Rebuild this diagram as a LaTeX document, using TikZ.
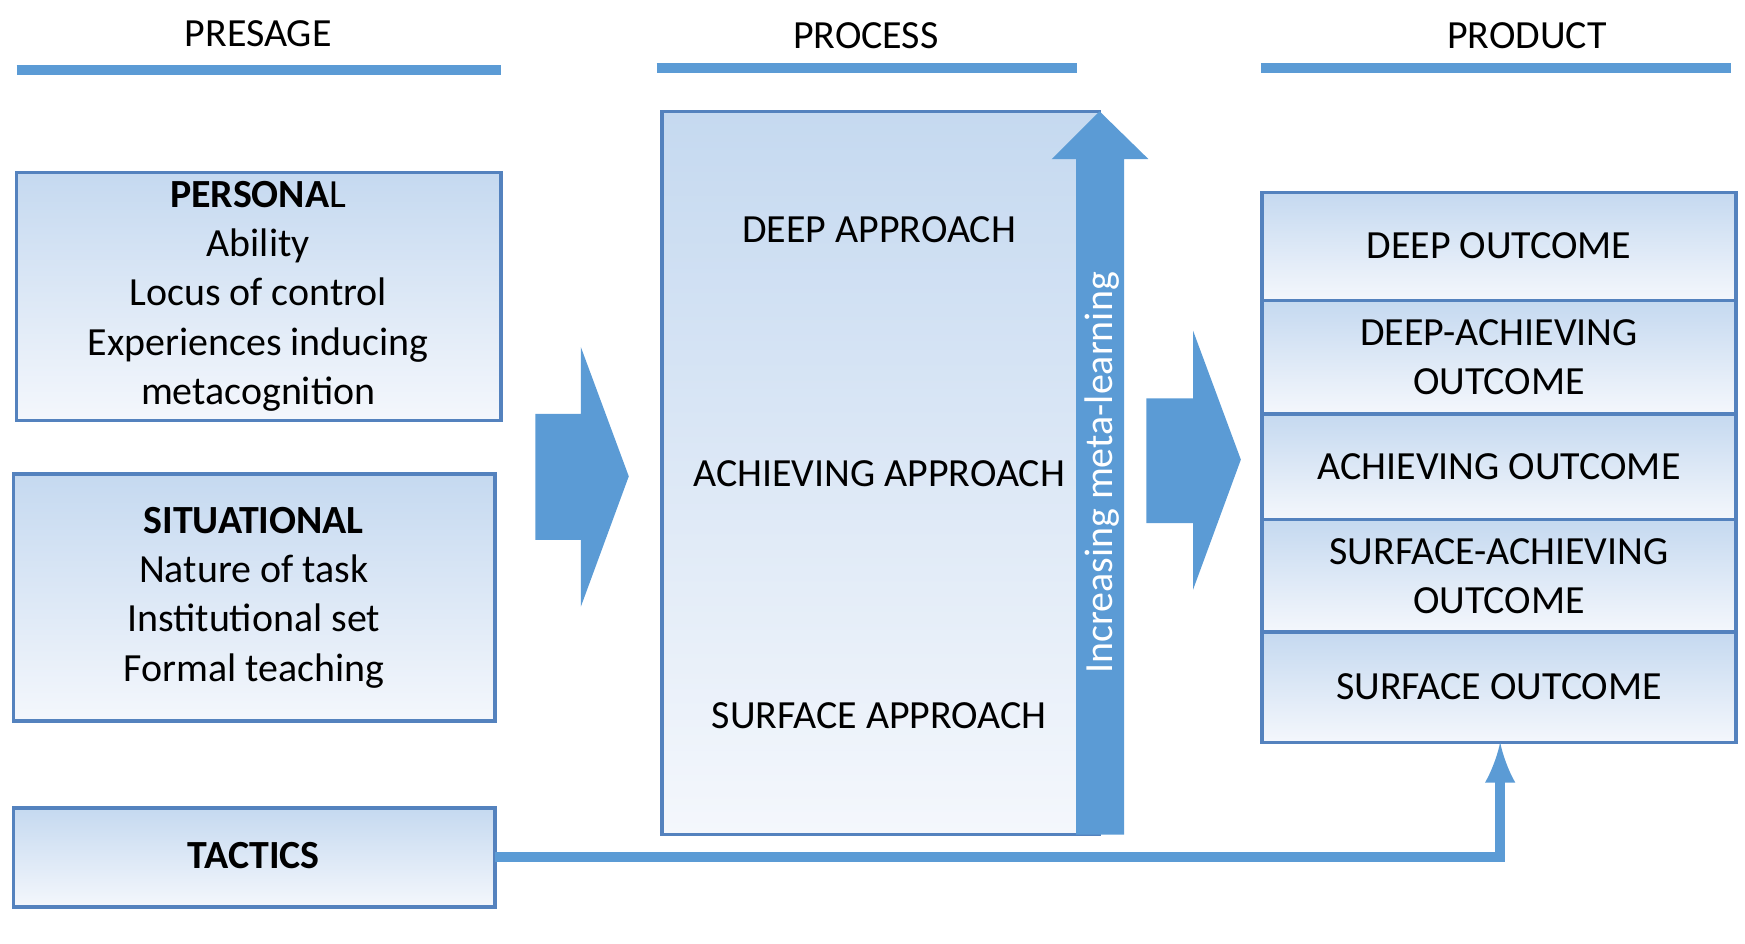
\documentclass[tikz,border=0pt]{standalone}
\usepackage{fontspec}
\setmainfont{Carlito}
\usetikzlibrary{positioning}
\definecolor{boxline}{RGB}{84,130,190}
\definecolor{arrowblue}{RGB}{91,155,213}
\definecolor{filltop}{RGB}{197,217,240}
\definecolor{fillbot}{RGB}{244,247,252}
\tikzset{
  panel/.style={draw=boxline, line width=0.9pt, top color=filltop, bottom color=fillbot, inner sep=0pt},
  head/.style={font=\fontsize{10.2}{12}\selectfont},
  txt/.style={font=\fontsize{10.2}{12.6}\selectfont, align=center},
}
\begin{document}
\begin{tikzpicture}[x=0.01cm, y=-0.01cm]
\useasboundingbox (0,0) rectangle (1568,848);

% headers
\node[head] (presage) at (232,30) {PRESAGE};
\node[head] (process) at (778,32) {PROCESS};
\node[head] (product) at (1372,32) {PRODUCT};
\draw[arrowblue, line width=2.5pt] (15,63) -- (450,63);
\draw[arrowblue, line width=2.5pt] (590,61) -- (968,61);
\draw[arrowblue, line width=2.5pt] (1133,61) -- (1555,61);

% presage boxes
\draw[panel] (15,155) rectangle (450,378);
\node[txt] (personal) at (232,266) {\textbf{PERSONA}L\\Ability\\Locus of control\\Experiences inducing\\metacognition};
\draw[panel] (12,426) rectangle (445,648);
\node[txt] (situational) at (228,537) {\textbf{SITUATIONAL}\\Nature of task\\Institutional set\\Formal teaching};
\draw[panel] (12,726) rectangle (445,815);
\node[txt] (tactics) at (228,769) {\textbf{TACTICS}};
\coordinate (tacticsout) at (445,770);

% big arrows
\fill[arrowblue] (481,372) -- (522,372) -- (522,312) -- (565,428) -- (522,545) -- (522,485) -- (481,485) -- cycle;
\fill[arrowblue] (1030,358) -- (1072,358) -- (1072,297) -- (1115,413) -- (1072,530) -- (1072,470) -- (1030,470) -- cycle;

% process
\draw[panel] (595,100) rectangle (988,750);
\node[txt] (deep) at (790,206) {DEEP APPROACH};
\node[txt] (achieving) at (790,426) {ACHIEVING APPROACH};
\node[txt] (surface) at (790,643) {SURFACE APPROACH};
\fill[arrowblue] (967,750) -- (1010,750) -- (1010,143) -- (1032,143) -- (988,100) -- (945,143) -- (967,143) -- cycle;
\node[txt, text=white, rotate=90] (meta) at (990,425) {Increasing meta-learning};

% product
\draw[panel] (1134,173) rectangle (1560,270);
\draw[panel] (1134,270) rectangle (1560,372);
\draw[panel] (1134,372) rectangle (1560,467);
\draw[panel] (1134,467) rectangle (1560,568);
\draw[panel] (1134,568) rectangle (1560,667);
\node[txt] (deepout) at (1347,221) {DEEP OUTCOME};
\node[txt] (deepach) at (1347,321) {DEEP-ACHIEVING\\OUTCOME};
\node[txt] (achout) at (1347,419) {ACHIEVING OUTCOME};
\node[txt] (surfach) at (1347,518) {SURFACE-ACHIEVING\\OUTCOME};
\node[txt] (surfout) at (1347,617) {SURFACE OUTCOME};
\coordinate (surfbase) at (1348,667);

\draw[arrowblue, line width=2.5pt, -latex] (tacticsout) -| (surfbase);
\end{tikzpicture}
\end{document}
